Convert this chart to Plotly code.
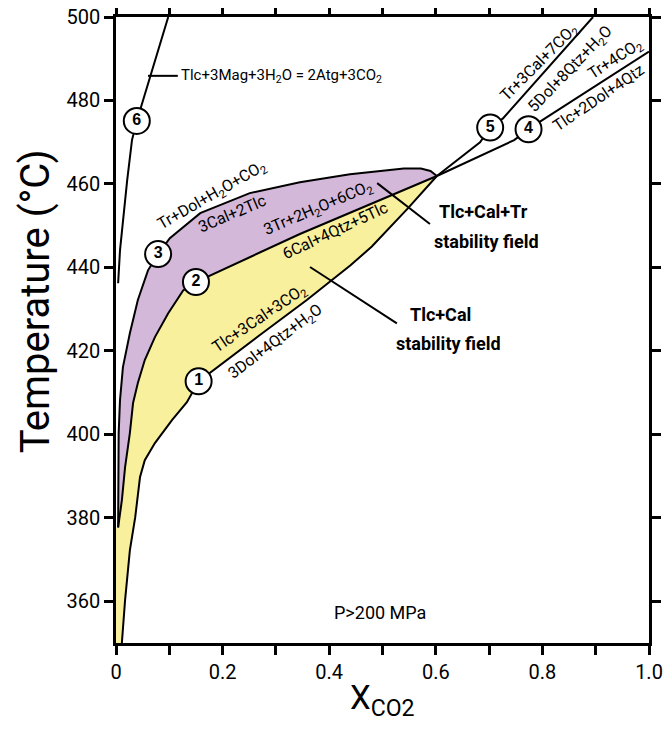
import plotly.graph_objects as go

# ---------------- data (X_CO2, Temperature °C) ----------------
# Reaction 1: Tlc+3Cal+3CO2 = 3Dol+4Qtz+H2O (lower boundary of yellow field)
c1_x = [0.011, 0.017, 0.026, 0.036, 0.045, 0.054, 0.073, 0.105, 0.133, 0.155, 0.270, 0.358, 0.440, 0.480, 0.548, 0.602]
c1_T = [350.0, 360.2, 372.2, 380.1, 389.7, 393.8, 397.9, 403.4, 407.7, 412.7, 423.8, 432.2, 440.5, 445.0, 454.2, 461.9]
# Reaction 2: 6Cal+4Qtz+5Tlc = 3Tr+2H2O+6CO2
c2_x = [0.004, 0.011, 0.017, 0.026, 0.032, 0.041, 0.054, 0.073, 0.098, 0.126, 0.150, 0.345, 0.602]
c2_T = [377.7, 384.2, 392.1, 400.3, 407.5, 412.3, 417.8, 423.3, 429.0, 434.5, 436.5, 448.0, 461.9]
# Reaction 3: 3Cal+2Tlc = Tr+Dol+H2O+CO2
c3_x = [0.004, 0.004, 0.005, 0.0075, 0.013, 0.026, 0.041, 0.060, 0.079, 0.101, 0.158, 0.251, 0.345, 0.439, 0.540, 0.572, 0.590, 0.602]
c3_T = [377.7, 388.3, 400.3, 408.2, 416.1, 424.2, 432.2, 439.3, 443.2, 447.0, 453.0, 457.8, 460.4, 462.3, 463.7, 463.7, 463.1, 461.9]
# Reaction 4: Tlc+2Dol+4Qtz = Tr+4CO2
c4_x = [0.602, 0.747, 0.774, 0.794, 1.000]
c4_T = [461.9, 470.5, 473.1, 474.8, 491.7]
# Reaction 5: 5Dol+8Qtz+H2O = Tr+3Cal+7CO2
c5_x = [0.602, 0.683, 0.702, 0.726, 0.895]
c5_T = [461.9, 470.0, 473.5, 475.7, 500.0]
# Reaction 6: Tlc+3Mag+3H2O = 2Atg+3CO2
c6_x = [0.004, 0.0075, 0.021, 0.030, 0.039, 0.064, 0.096, 0.098]
c6_T = [436.2, 444.1, 460.9, 470.5, 475.1, 485.4, 499.0, 500.0]

# numbered reaction markers
num_labels = ["1", "2", "3", "4", "5", "6"]
num_x = [0.155, 0.150, 0.079, 0.774, 0.702, 0.039]
num_T = [412.7, 436.5, 443.2, 473.1, 473.5, 475.1]

# reaction texts
rxn_text = ["Tr+Dol+H<sub>2</sub>O+CO<sub>2</sub>", "3Cal+2Tlc",
            "3Tr+2H<sub>2</sub>O+6CO<sub>2</sub>", "6Cal+4Qtz+5Tlc",
            "Tlc+3Cal+3CO<sub>2</sub>", "3Dol+4Qtz+H<sub>2</sub>O",
            "Tr+3Cal+7CO<sub>2</sub>", "5Dol+8Qtz+H<sub>2</sub>O",
            "Tr+4CO<sub>2</sub>", "Tlc+2Dol+4Qtz"]
rxn_x = [0.180, 0.218, 0.379, 0.411, 0.270, 0.300, 0.795, 0.852, 0.936, 0.906]
rxn_T = [457.3, 453.0, 454.2, 448.9, 427.8, 422.3, 489.0, 487.5, 489.9, 480.6]
rxn_angle = [-30, -23, -23, -25, -34, -37, -45, -46, -33, -34]

# field labels (bold), one entry per line
field_text = ["Tlc+Cal+Tr", "stability field", "Tlc+Cal", "stability field"]
field_x = [0.690, 0.696, 0.608, 0.623]
field_T = [453.3, 446.3, 428.6, 421.8]

x_tickvals = [0.0, 0.1, 0.2, 0.3, 0.4, 0.5, 0.6, 0.7, 0.8, 0.9, 1.0]
x_ticktext = ["0", " ", "0.2", " ", "0.4", " ", "0.6", " ", "0.8", " ", "1.0"]
y_tickvals = [360, 380, 400, 420, 440, 460, 480, 500]

PURPLE = "#d4b8d9"
YELLOW = "#f9f09d"
NARROW = "Roboto, sans-serif"

fig = go.Figure()

# yellow field: axis edge, up curve 2, back down curve 1
yx = [0.0, 0.0] + c2_x + c1_x[::-1]
yT = [350.0, c2_T[0]] + c2_T + c1_T[::-1]
fig.add_trace(go.Scatter(x=yx, y=yT, fill="toself", fillcolor=YELLOW,
                         line=dict(width=0), mode="lines", hoverinfo="skip"))
# purple field: curve 3 up, curve 2 back
px_ = c3_x + c2_x[::-1]
pT = c3_T + c2_T[::-1]
fig.add_trace(go.Scatter(x=px_, y=pT, fill="toself", fillcolor=PURPLE,
                         line=dict(width=0), mode="lines", hoverinfo="skip"))

for cx, cT in [(c1_x, c1_T), (c2_x, c2_T), (c3_x, c3_T), (c4_x, c4_T), (c5_x, c5_T), (c6_x, c6_T)]:
    fig.add_trace(go.Scatter(x=cx, y=cT, mode="lines",
                             line=dict(color="black", width=2), hoverinfo="skip"))

# leader lines
leaders = [([0.060, 0.116], [485.9, 485.9]),
           ([0.490, 0.589], [460.2, 450.4]),
           ([0.364, 0.527], [440.1, 426.6])]
for lx, lT in leaders:
    fig.add_trace(go.Scatter(x=lx, y=lT, mode="lines",
                             line=dict(color="black", width=2), hoverinfo="skip"))

# numbered circles
fig.add_trace(go.Scatter(x=num_x, y=num_T, mode="markers+text", text=num_labels,
                         textposition="middle center",
                         textfont=dict(family="Liberation Sans, Arial", size=16, color="black", weight="bold"),
                         marker=dict(symbol="circle", size=26, color="white",
                                     line=dict(color="black", width=2)),
                         hoverinfo="skip"))

for t, x, T, a in zip(rxn_text, rxn_x, rxn_T, rxn_angle):
    fig.add_annotation(x=x, y=T, text=t, textangle=a, showarrow=False,
                       font=dict(family=NARROW, size=16, color="black"))

for t, x, T in zip(field_text, field_x, field_T):
    fig.add_annotation(x=x, y=T, text="<b>" + t + "</b>", showarrow=False,
                       font=dict(family=NARROW, size=18, color="black"))

fig.add_annotation(x=0.118, y=485.9, text="Tlc+3Mag+3H<sub>2</sub>O = 2Atg+3CO<sub>2</sub>",
                   xanchor="left", showarrow=False,
                   font=dict(family=NARROW, size=15, color="black"))
fig.add_annotation(x=0.495, y=357.4, text="P>200 MPa", showarrow=False,
                   font=dict(family=NARROW, size=18, color="black"))

# axis titles as paper-positioned annotations
fig.add_annotation(xref="paper", yref="paper", x=-0.152, y=0.546,
                   xanchor="center", yanchor="middle",
                   text="Temperature (°C)", textangle=-90, showarrow=False,
                   font=dict(family=NARROW, size=40, color="black"))
fig.add_annotation(xref="paper", yref="paper", x=0.5, y=-0.091,
                   xanchor="center", yanchor="middle",
                   text="X<sub>CO2</sub>", showarrow=False,
                   font=dict(family=NARROW, size=33, color="black"))

# page body adds an 8px offset, so the figure is 8px smaller and margins shifted
fig.update_layout(
    width=664, height=727,
    margin=dict(l=108, r=23, t=9, b=92),
    plot_bgcolor="white", paper_bgcolor="white",
    showlegend=False,
    xaxis=dict(range=[0, 1], tickvals=x_tickvals, ticktext=x_ticktext,
               ticks="outside", ticklen=9, tickwidth=2.5, tickcolor="black",
               showline=True, linewidth=2.5, linecolor="black", mirror="ticks",
               showgrid=False, zeroline=False, automargin=False,
               ticklabeloverflow="allow",
               tickfont=dict(family=NARROW, size=20, color="black")),
    yaxis=dict(range=[350, 500], tickvals=y_tickvals,
               ticks="outside", ticklen=9, tickwidth=2.5, tickcolor="black",
               showline=True, linewidth=2.5, linecolor="black", mirror="ticks",
               showgrid=False, zeroline=False, automargin=False,
               ticklabeloverflow="allow",
               tickfont=dict(family=NARROW, size=20, color="black")),
)

fig.write_html("out.html")
